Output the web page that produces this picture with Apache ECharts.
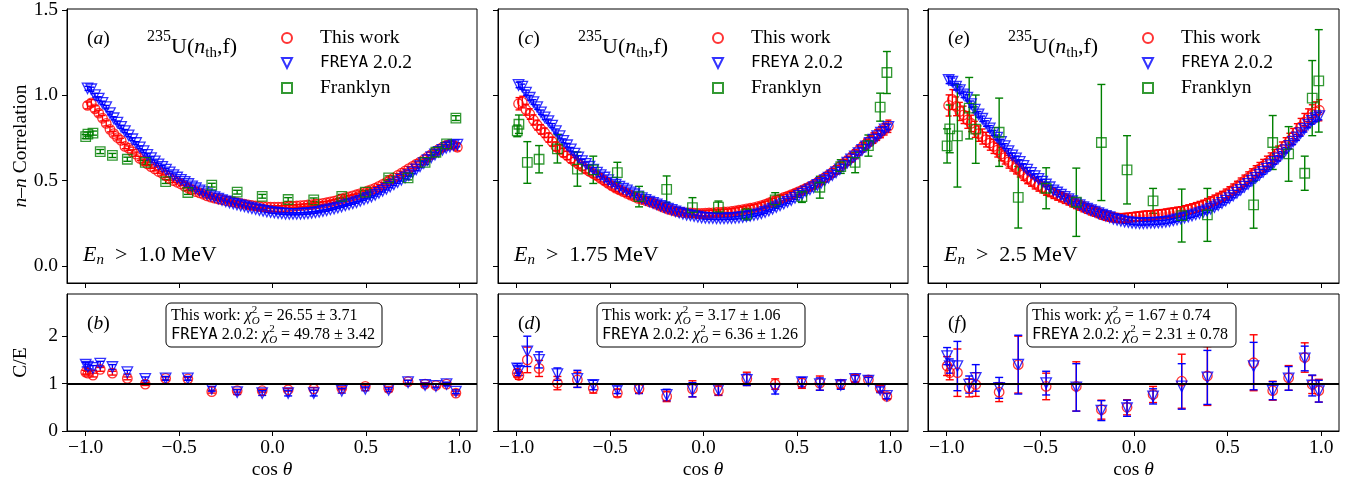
<!DOCTYPE html>
<html>
<head>
<meta charset="utf-8">
<script src="https://cdn.jsdelivr.net/npm/echarts@6/dist/echarts.min.js"></script>
<style>
html, body { margin: 0; padding: 0; background: #fff; }
#chart { width: 1364px; height: 487px; }
</style>
</head>
<body>
<div id="chart"></div>
<script>
// n-n angular correlation for 235U(n_th,f): measurement, FREYA 2.0.2 and Franklyn,
// plus the C/E ratios against Franklyn, for three neutron energy thresholds.

const SERIF = "'Liberation Serif', 'DejaVu Serif', serif";
const MONO = "'DejaVu Sans Mono', 'Liberation Mono', monospace";
const RED = '#ff0000', BLUE = '#0000ff', GREEN = '#008000';

// ---- cos(theta) bin centres for the dense correlation curves ----
const cosTheta = [-0.99,-0.97,-0.95,-0.93,-0.91,-0.89,-0.87,-0.85,-0.83,-0.81,
  -0.79,-0.77,-0.75,-0.73,-0.71,-0.69,-0.67,-0.65,-0.63,-0.61,
  -0.59,-0.57,-0.55,-0.53,-0.51,-0.49,-0.47,-0.45,-0.43,-0.41,
  -0.39,-0.37,-0.35,-0.33,-0.31,-0.29,-0.27,-0.25,-0.23,-0.21,
  -0.19,-0.17,-0.15,-0.13,-0.11,-0.09,-0.07,-0.05,-0.03,-0.01,
  0.01,0.03,0.05,0.07,0.09,0.11,0.13,0.15,0.17,0.19,
  0.21,0.23,0.25,0.27,0.29,0.31,0.33,0.35,0.37,0.39,
  0.41,0.43,0.45,0.47,0.49,0.51,0.53,0.55,0.57,0.59,
  0.61,0.63,0.65,0.67,0.69,0.71,0.73,0.75,0.77,0.79,
  0.81,0.83,0.85,0.87,0.89,0.91,0.93,0.95,0.97,0.99];

// ---- E_n > 1.0 MeV ----
const workA = [0.94,0.955,0.92,0.895,0.865,0.835,0.80,0.775,0.752,0.735,
  0.70,0.69,0.668,0.655,0.63,0.615,0.598,0.582,0.568,0.553,
  0.542,0.528,0.512,0.50,0.49,0.48,0.466,0.455,0.447,0.435,
  0.428,0.42,0.41,0.403,0.397,0.392,0.388,0.383,0.379,0.375,
  0.37,0.366,0.362,0.358,0.354,0.351,0.349,0.347,0.346,0.345,
  0.344,0.344,0.345,0.346,0.348,0.349,0.351,0.353,0.355,0.357,
  0.359,0.362,0.364,0.367,0.37,0.375,0.38,0.386,0.391,0.40,
  0.404,0.41,0.417,0.424,0.431,0.44,0.447,0.455,0.466,0.478,
  0.49,0.504,0.516,0.53,0.543,0.556,0.57,0.583,0.596,0.608,
  0.621,0.637,0.652,0.668,0.683,0.695,0.706,0.712,0.708,0.695];
const workErrA = [0.02,0.019,0.018,0.017,0.016,0.015,0.015,0.014,0.014,0.013,
  0.013,0.013,0.012,0.012,0.012,0.011,0.011,0.011,0.011,0.01,
  0.01,0.01,0.01,0.01,0.01,0.01,0.009,0.009,0.009,0.009,
  0.009,0.009,0.009,0.009,0.009,0.009,0.009,0.008,0.008,0.008,
  0.008,0.008,0.008,0.008,0.008,0.008,0.008,0.008,0.008,0.008,
  0.008,0.008,0.008,0.008,0.008,0.008,0.008,0.008,0.008,0.008,
  0.008,0.008,0.008,0.009,0.009,0.009,0.009,0.009,0.009,0.009,
  0.009,0.009,0.009,0.01,0.01,0.01,0.01,0.01,0.01,0.01,
  0.011,0.011,0.011,0.011,0.012,0.012,0.012,0.013,0.013,0.013,
  0.014,0.014,0.015,0.015,0.016,0.017,0.018,0.019,0.02,0.021];
const freyaA = [1.04,1.035,1.00,0.98,0.955,0.93,0.895,0.865,0.84,0.815,
  0.79,0.765,0.742,0.72,0.695,0.672,0.65,0.632,0.613,0.595,
  0.58,0.564,0.548,0.532,0.518,0.504,0.492,0.48,0.466,0.455,
  0.443,0.432,0.421,0.412,0.403,0.394,0.386,0.378,0.372,0.365,
  0.36,0.354,0.349,0.343,0.338,0.333,0.328,0.323,0.319,0.315,
  0.313,0.31,0.308,0.306,0.305,0.305,0.305,0.306,0.307,0.309,
  0.311,0.314,0.317,0.322,0.326,0.331,0.336,0.342,0.348,0.355,
  0.361,0.367,0.373,0.381,0.39,0.398,0.407,0.416,0.428,0.44,
  0.452,0.465,0.478,0.491,0.505,0.518,0.532,0.548,0.566,0.584,
  0.602,0.62,0.637,0.653,0.668,0.68,0.692,0.70,0.707,0.71];
const freyaErrA = [0.012,0.012,0.011,0.011,0.01,0.01,0.01,0.009,0.009,0.009,
  0.009,0.008,0.008,0.008,0.008,0.008,0.007,0.007,0.007,0.007,
  0.007,0.007,0.007,0.007,0.006,0.006,0.006,0.006,0.006,0.006,
  0.006,0.006,0.006,0.006,0.006,0.006,0.006,0.006,0.006,0.006,
  0.006,0.006,0.006,0.006,0.006,0.006,0.006,0.006,0.006,0.006,
  0.006,0.006,0.006,0.006,0.006,0.006,0.006,0.006,0.006,0.006,
  0.006,0.006,0.006,0.006,0.006,0.006,0.006,0.006,0.006,0.006,
  0.006,0.006,0.006,0.006,0.006,0.006,0.007,0.007,0.007,0.007,
  0.007,0.007,0.007,0.007,0.008,0.008,0.008,0.008,0.008,0.009,
  0.009,0.009,0.009,0.01,0.01,0.01,0.011,0.011,0.012,0.012];
const franklynXA = [-1.0,-0.988,-0.961,-0.922,-0.857,-0.777,-0.681,-0.572,-0.453,-0.325,-0.189,
  -0.055,0.084,0.221,0.371,0.497,0.622,0.726,0.817,0.875,0.932,0.982];
const franklynA = [0.758,0.772,0.778,0.670,0.647,0.625,0.606,0.494,0.430,0.473,0.432,
  0.408,0.389,0.387,0.408,0.432,0.516,0.516,0.606,0.666,0.715,0.866];
const franklynErrA = [0.012,0.012,0.012,0.012,0.012,0.012,0.011,0.011,0.011,0.011,0.011,
  0.011,0.011,0.011,0.011,0.011,0.011,0.012,0.012,0.012,0.012,0.014];
const ratioWorkB = [1.24,1.22,1.18,1.30,1.22,1.11,0.99,1.11,1.10,0.83,0.85,
  0.85,0.87,0.89,0.90,0.94,0.90,1.04,0.99,0.96,0.99,0.80];
const ratioWorkErrB = [0.04,0.04,0.04,0.04,0.04,0.03,0.03,0.03,0.03,0.03,0.03,
  0.03,0.03,0.03,0.03,0.03,0.03,0.03,0.03,0.03,0.03,0.04];
const ratioFreyaB = [1.40,1.36,1.33,1.42,1.35,1.24,1.10,1.11,1.11,0.89,0.82,
  0.80,0.80,0.80,0.85,0.89,0.87,1.03,0.97,0.95,0.99,0.83];
const ratioFreyaErrB = [0.05,0.05,0.05,0.05,0.05,0.04,0.04,0.04,0.04,0.05,0.05,
  0.05,0.06,0.06,0.05,0.04,0.04,0.04,0.04,0.04,0.04,0.04];

// ---- E_n > 1.75 MeV ----
const workC = [0.95,0.96,0.915,0.89,0.855,0.825,0.80,0.78,0.752,0.728,
  0.70,0.683,0.664,0.647,0.628,0.612,0.597,0.583,0.567,0.553,
  0.541,0.528,0.512,0.498,0.483,0.469,0.456,0.445,0.435,0.425,
  0.415,0.405,0.396,0.389,0.383,0.377,0.369,0.36,0.35,0.341,
  0.333,0.327,0.321,0.316,0.313,0.311,0.31,0.309,0.308,0.308,
  0.309,0.31,0.311,0.313,0.314,0.316,0.317,0.319,0.323,0.327,
  0.33,0.334,0.338,0.342,0.347,0.353,0.361,0.369,0.378,0.386,
  0.393,0.401,0.409,0.417,0.426,0.435,0.445,0.455,0.465,0.476,
  0.489,0.502,0.517,0.532,0.547,0.563,0.581,0.599,0.616,0.634,
  0.654,0.675,0.695,0.714,0.732,0.749,0.767,0.784,0.801,0.818];
const workErrC = [0.036,0.034,0.032,0.031,0.03,0.029,0.028,0.028,0.027,0.026,
  0.026,0.025,0.025,0.024,0.024,0.023,0.023,0.022,0.022,0.021,
  0.021,0.021,0.02,0.02,0.02,0.019,0.019,0.019,0.019,0.018,
  0.018,0.018,0.018,0.018,0.017,0.017,0.017,0.017,0.017,0.017,
  0.016,0.016,0.016,0.016,0.016,0.016,0.016,0.016,0.016,0.016,
  0.016,0.016,0.016,0.016,0.016,0.016,0.016,0.016,0.016,0.017,
  0.017,0.017,0.017,0.017,0.017,0.018,0.018,0.018,0.018,0.018,
  0.019,0.019,0.019,0.019,0.02,0.02,0.02,0.021,0.021,0.021,
  0.022,0.022,0.023,0.023,0.024,0.024,0.025,0.025,0.026,0.026,
  0.027,0.028,0.028,0.029,0.03,0.031,0.032,0.033,0.034,0.036];
const freyaC = [1.06,1.05,1.015,0.985,0.96,0.93,0.90,0.87,0.848,0.822,
  0.79,0.76,0.733,0.707,0.683,0.658,0.636,0.614,0.598,0.581,
  0.564,0.547,0.532,0.518,0.503,0.488,0.476,0.464,0.453,0.442,
  0.431,0.42,0.408,0.397,0.387,0.377,0.369,0.361,0.352,0.344,
  0.336,0.328,0.32,0.312,0.306,0.30,0.296,0.292,0.288,0.284,
  0.282,0.281,0.28,0.279,0.279,0.279,0.28,0.28,0.282,0.284,
  0.287,0.29,0.294,0.298,0.302,0.308,0.316,0.325,0.335,0.345,
  0.355,0.365,0.375,0.386,0.399,0.411,0.424,0.436,0.449,0.461,
  0.474,0.487,0.502,0.517,0.532,0.549,0.566,0.585,0.605,0.624,
  0.642,0.66,0.68,0.70,0.72,0.74,0.76,0.78,0.80,0.815];
const freyaErrC = [0.016,0.015,0.015,0.014,0.014,0.013,0.013,0.013,0.012,0.012,
  0.012,0.011,0.011,0.011,0.011,0.01,0.01,0.01,0.01,0.01,
  0.01,0.009,0.009,0.009,0.009,0.009,0.009,0.009,0.008,0.008,
  0.008,0.008,0.008,0.008,0.008,0.008,0.008,0.008,0.008,0.008,
  0.008,0.008,0.008,0.008,0.008,0.008,0.008,0.008,0.008,0.008,
  0.008,0.008,0.008,0.008,0.008,0.008,0.008,0.008,0.008,0.008,
  0.008,0.008,0.008,0.008,0.008,0.008,0.008,0.008,0.008,0.008,
  0.008,0.008,0.009,0.009,0.009,0.009,0.009,0.009,0.009,0.01,
  0.01,0.01,0.01,0.01,0.011,0.011,0.011,0.011,0.012,0.012,
  0.012,0.013,0.013,0.013,0.014,0.014,0.015,0.015,0.016,0.016];
const franklynXC = [-0.997,-0.988,-0.943,-0.88,-0.782,-0.675,-0.59,-0.461,-0.345,-0.197,-0.059,
  0.08,0.232,0.384,0.527,0.623,0.735,0.812,0.883,0.946,0.982];
const franklynC = [0.791,0.830,0.606,0.625,0.686,0.567,0.563,0.547,0.406,0.449,0.342,
  0.344,0.303,0.387,0.406,0.461,0.582,0.606,0.705,0.930,1.133];
const franklynErrC = [0.034,0.054,0.122,0.08,0.083,0.10,0.08,0.06,0.06,0.078,0.058,
  0.036,0.034,0.042,0.034,0.064,0.04,0.06,0.062,0.082,0.123];
const ratioWorkD = [1.22,1.17,1.50,1.32,1.01,1.08,0.90,0.80,0.89,0.73,0.89,
  0.85,1.10,0.99,1.01,1.01,0.99,1.11,1.08,0.90,0.73];
const ratioWorkErrD = [0.08,0.08,0.27,0.17,0.14,0.16,0.10,0.08,0.09,0.11,0.17,
  0.10,0.14,0.11,0.11,0.15,0.09,0.08,0.08,0.06,0.06];
const ratioFreyaD = [1.32,1.27,1.68,1.50,1.20,1.10,0.97,0.87,0.89,0.76,0.87,
  0.87,1.08,0.89,1.03,0.99,0.97,1.10,1.06,0.87,0.74];
const ratioFreyaErrD = [0.10,0.10,0.32,0.17,0.13,0.18,0.10,0.08,0.10,0.12,0.15,
  0.11,0.12,0.11,0.10,0.13,0.09,0.07,0.07,0.06,0.06];

// ---- E_n > 2.5 MeV ----
const workE = [0.94,0.975,0.935,0.905,0.885,0.855,0.835,0.80,0.775,0.758,
  0.74,0.72,0.70,0.678,0.655,0.635,0.61,0.592,0.574,0.556,
  0.535,0.516,0.50,0.484,0.47,0.46,0.445,0.437,0.425,0.415,
  0.405,0.395,0.386,0.375,0.364,0.355,0.345,0.335,0.326,0.318,
  0.31,0.30,0.293,0.288,0.284,0.281,0.28,0.281,0.283,0.286,
  0.289,0.291,0.294,0.296,0.297,0.299,0.302,0.304,0.307,0.31,
  0.313,0.317,0.32,0.325,0.33,0.336,0.342,0.349,0.356,0.365,
  0.375,0.385,0.395,0.406,0.418,0.432,0.447,0.463,0.481,0.498,
  0.516,0.534,0.551,0.569,0.586,0.604,0.622,0.641,0.66,0.683,
  0.707,0.732,0.758,0.785,0.815,0.842,0.867,0.889,0.903,0.912];
const workErrE = [0.062,0.058,0.055,0.053,0.051,0.049,0.048,0.047,0.045,0.044,
  0.043,0.042,0.041,0.04,0.039,0.038,0.037,0.036,0.035,0.035,
  0.034,0.034,0.033,0.033,0.032,0.032,0.031,0.031,0.03,0.03,
  0.03,0.029,0.029,0.029,0.028,0.028,0.028,0.027,0.027,0.027,
  0.027,0.026,0.026,0.026,0.026,0.026,0.026,0.026,0.026,0.026,
  0.026,0.026,0.026,0.026,0.026,0.026,0.026,0.026,0.026,0.027,
  0.027,0.027,0.027,0.028,0.028,0.028,0.029,0.029,0.029,0.03,
  0.03,0.03,0.031,0.031,0.032,0.032,0.033,0.033,0.034,0.034,
  0.035,0.035,0.036,0.037,0.038,0.039,0.04,0.041,0.042,0.043,
  0.044,0.045,0.047,0.048,0.049,0.051,0.053,0.055,0.058,0.062];
const freyaE = [1.09,1.08,1.05,1.03,1.005,0.985,0.948,0.915,0.888,0.862,
  0.834,0.806,0.779,0.752,0.727,0.702,0.673,0.648,0.63,0.609,
  0.586,0.564,0.545,0.526,0.51,0.494,0.477,0.461,0.443,0.43,
  0.417,0.404,0.391,0.379,0.367,0.356,0.345,0.335,0.326,0.318,
  0.309,0.301,0.293,0.285,0.276,0.27,0.265,0.26,0.257,0.253,
  0.251,0.25,0.25,0.251,0.252,0.253,0.254,0.256,0.258,0.262,
  0.267,0.272,0.277,0.283,0.289,0.295,0.302,0.309,0.316,0.325,
  0.335,0.345,0.356,0.369,0.383,0.397,0.412,0.429,0.446,0.464,
  0.481,0.499,0.516,0.534,0.551,0.57,0.59,0.61,0.63,0.654,
  0.678,0.703,0.728,0.753,0.778,0.803,0.828,0.85,0.866,0.878];
const freyaErrE = [0.022,0.021,0.02,0.019,0.019,0.018,0.018,0.017,0.017,0.016,
  0.016,0.016,0.015,0.015,0.015,0.014,0.014,0.014,0.014,0.013,
  0.013,0.013,0.013,0.013,0.012,0.012,0.012,0.012,0.012,0.012,
  0.012,0.011,0.011,0.011,0.011,0.011,0.011,0.011,0.011,0.011,
  0.011,0.011,0.011,0.011,0.011,0.011,0.011,0.011,0.011,0.011,
  0.011,0.011,0.011,0.011,0.011,0.011,0.011,0.011,0.011,0.011,
  0.011,0.011,0.011,0.011,0.011,0.011,0.011,0.011,0.011,0.012,
  0.012,0.012,0.012,0.012,0.012,0.012,0.013,0.013,0.013,0.013,
  0.013,0.014,0.014,0.014,0.014,0.015,0.015,0.015,0.016,0.016,
  0.016,0.017,0.017,0.018,0.018,0.019,0.019,0.02,0.021,0.022];
const franklynXE = [-0.998,-0.984,-0.943,-0.880,-0.845,-0.720,-0.618,-0.469,-0.308,-0.174,
  -0.037,0.102,0.255,0.392,0.639,0.741,0.826,0.912,0.952,0.987];
const franklynE = [0.703,0.803,0.762,0.924,0.801,0.783,0.402,0.455,0.373,0.723,
  0.563,0.381,0.295,0.299,0.358,0.723,0.656,0.543,0.983,1.084];
const franklynErrE = [0.10,0.14,0.30,0.18,0.20,0.20,0.18,0.12,0.20,0.34,
  0.20,0.073,0.155,0.155,0.137,0.158,0.16,0.10,0.22,0.30];
const ratioWorkF = [1.37,1.23,1.23,0.91,0.98,0.82,1.40,0.94,0.94,0.45,
  0.50,0.77,1.05,1.16,1.44,0.85,1.12,1.55,0.98,0.85];
const ratioWorkErrF = [0.20,0.15,0.50,0.19,0.25,0.20,0.60,0.28,0.52,0.20,
  0.16,0.17,0.57,0.62,0.59,0.20,0.26,0.31,0.19,0.24];
const ratioFreyaF = [1.58,1.37,1.37,0.98,1.12,0.91,1.40,1.01,0.92,0.43,
  0.48,0.73,0.94,1.13,1.37,0.85,1.11,1.53,0.96,0.84];
const ratioFreyaErrF = [0.18,0.15,0.52,0.18,0.28,0.22,0.62,0.25,0.50,0.21,
  0.17,0.16,0.48,0.57,0.50,0.19,0.25,0.26,0.22,0.23];

// ---- axis ticks ----
const cosTicks = [-1, -0.5, 0, 0.5, 1];
const corrTicks = [0, 0.5, 1, 1.5];
const ratioTicks = [0, 1, 2];

// ---- panel texts ----
const panelTags = [['a', 'b'], ['c', 'd'], ['e', 'f']];
const energyCuts = ['1.0', '1.75', '2.5'];
const chiWork = ['26.55 ± 3.71', '3.17 ± 1.06', '1.67 ± 0.74'];
const chiFreya = ['49.78 ± 3.42', '6.36 ± 1.26', '2.31 ± 0.78'];

const corrPanels = [
  { work: workA, workErr: workErrA, freya: freyaA, freyaErr: freyaErrA, fx: franklynXA, fy: franklynA, fe: franklynErrA },
  { work: workC, workErr: workErrC, freya: freyaC, freyaErr: freyaErrC, fx: franklynXC, fy: franklynC, fe: franklynErrC },
  { work: workE, workErr: workErrE, freya: freyaE, freyaErr: freyaErrE, fx: franklynXE, fy: franklynE, fe: franklynErrE }
];
const ratioPanels = [
  { x: franklynXA, work: ratioWorkB, workErr: ratioWorkErrB, freya: ratioFreyaB, freyaErr: ratioFreyaErrB },
  { x: franklynXC, work: ratioWorkD, workErr: ratioWorkErrD, freya: ratioFreyaD, freyaErr: ratioFreyaErrD },
  { x: franklynXE, work: ratioWorkF, workErr: ratioWorkErrF, freya: ratioFreyaF, freyaErr: ratioFreyaErrF }
];

// ---- layout ----
const colLeft = [67, 498, 928];
const colWidth = [410, 410, 411];
const TOP_Y = 9, TOP_H = 274, BOT_Y = 294, BOT_H = 137;
const boxWidth = [216, 208, 209];
const FS = 19.5;

const TRI_DOWN = 'path://M0,0L20,0L10,20Z';
const SQUARE = 'path://M0,0L20,0L20,20L0,20Z';

const signed1 = v => (v < 0 ? '\u2212' : '') + Math.abs(v).toFixed(1);

function xAxisOf(gridIndex, withLabels) {
  const ax = {
    type: 'value', gridIndex, min: -1.1, max: 1.095,
    axisLine: { show: true, onZero: false, lineStyle: { color: '#000', width: 1 } },
    axisTick: { show: true, length: 5, inside: false, customValues: cosTicks, lineStyle: { color: '#000', width: 1 } },
    axisLabel: { show: withLabels, customValues: cosTicks, formatter: signed1, color: '#000', fontFamily: SERIF, fontSize: FS, margin: 7 },
    splitLine: { show: false }
  };
  if (withLabels) {
    ax.name = '{u|cos }{i|θ}';
    ax.nameLocation = 'middle';
    ax.nameGap = 29;
    ax.nameMoveOverlap = false;
    ax.nameTextStyle = {
      color: '#000', fontFamily: SERIF, fontSize: FS,
      rich: {
        u: { fontFamily: SERIF, fontSize: FS, color: '#000' },
        i: { fontFamily: SERIF, fontSize: FS, fontStyle: 'italic', color: '#000' }
      }
    };
  }
  return ax;
}

function yAxisOf(gridIndex, isCorr, withLabels) {
  const ax = {
    type: 'value', gridIndex,
    min: isCorr ? -0.1 : 0, max: isCorr ? 1.505 : 2.89,
    axisLine: { show: true, onZero: false, lineStyle: { color: '#000', width: 1 } },
    axisTick: { show: true, length: 5, inside: false, customValues: isCorr ? corrTicks : ratioTicks, lineStyle: { color: '#000', width: 1 } },
    axisLabel: {
      show: withLabels, customValues: isCorr ? corrTicks : ratioTicks,
      formatter: isCorr ? (v => v.toFixed(1)) : (v => String(v)),
      color: '#000', fontFamily: SERIF, fontSize: FS, margin: 9
    },
    splitLine: { show: false }
  };
  if (withLabels) {
    ax.name = isCorr ? '{i|n}{t|–}{i|n}{t| Correlation}' : '{t|C/E}';
    ax.nameLocation = 'middle';
    ax.nameGap = 36;
    ax.nameMoveOverlap = false;
    ax.nameTextStyle = {
      color: '#000', fontFamily: SERIF, fontSize: FS,
      rich: {
        t: { fontFamily: SERIF, fontSize: FS, color: '#000' },
        i: { fontFamily: SERIF, fontSize: FS, fontStyle: 'italic', color: '#000' }
      }
    };
  }
  return ax;
}

function pairs(xs, ys) { return xs.map((x, k) => [x, ys[k]]); }

function markerSeries(name, ax, xs, ys, symbol, size, color) {
  return {
    type: 'scatter', name, xAxisIndex: ax, yAxisIndex: ax,
    data: pairs(xs, ys), symbol, symbolSize: size,
    itemStyle: { color: 'rgba(0,0,0,0)', borderColor: color, borderWidth: 1.3 },
    emphasis: { disabled: true }, silent: true, animation: false
  };
}

function errorSeries(ax, xs, ys, es, color, cap) {
  return {
    type: 'custom', xAxisIndex: ax, yAxisIndex: ax, silent: true, animation: false, clip: true,
    data: xs.map((x, k) => [x, ys[k] - es[k], ys[k] + es[k]]),
    encode: { x: 0, y: [1, 2] },
    renderItem(params, api) {
      const x = api.value(0);
      const lo = api.coord([x, api.value(1)]);
      const hi = api.coord([x, api.value(2)]);
      const st = () => ({ stroke: color, lineWidth: 1.4 });
      return {
        type: 'group',
        children: [
          { type: 'line', shape: { x1: lo[0], y1: lo[1], x2: hi[0], y2: hi[1] }, style: st() },
          { type: 'line', shape: { x1: lo[0] - cap, y1: lo[1], x2: lo[0] + cap, y2: lo[1] }, style: st() },
          { type: 'line', shape: { x1: hi[0] - cap, y1: hi[1], x2: hi[0] + cap, y2: hi[1] }, style: st() }
        ]
      };
    }
  };
}

const grids = [], xAxes = [], yAxes = [], series = [], legends = [], graphics = [];

for (let row = 0; row < 2; row++) {
  for (let i = 0; i < 3; i++) {
    grids.push({
      left: colLeft[i], top: row ? BOT_Y : TOP_Y, width: colWidth[i], height: row ? BOT_H : TOP_H,
      show: true, borderColor: '#000', borderWidth: 1, backgroundColor: 'transparent',
      containLabel: false, outerBoundsMode: 'none'
    });
  }
}
for (let i = 0; i < 3; i++) { xAxes.push(xAxisOf(i, false)); yAxes.push(yAxisOf(i, true, i === 0)); }
for (let i = 0; i < 3; i++) { xAxes.push(xAxisOf(3 + i, true)); yAxes.push(yAxisOf(3 + i, false, i === 0)); }

// correlation panels
corrPanels.forEach((p, i) => {
  series.push(errorSeries(i, cosTheta, p.work, p.workErr, RED, 3));
  series.push(markerSeries('This work', i, cosTheta, p.work, 'circle', 9.5, RED));
  series.push(errorSeries(i, cosTheta, p.freya, p.freyaErr, BLUE, 3));
  series.push(markerSeries('FREYA 2.0.2', i, cosTheta, p.freya, TRI_DOWN, 10.5, BLUE));
  series.push(errorSeries(i, p.fx, p.fy, p.fe, GREEN, 4));
  series.push(markerSeries('Franklyn', i, p.fx, p.fy, SQUARE, 9.5, GREEN));
});

// C/E panels
ratioPanels.forEach((p, i) => {
  const ax = 3 + i;
  series.push(errorSeries(ax, p.x, p.work, p.workErr, RED, 4));
  series.push(markerSeries('This work', ax, p.x, p.work, 'circle', 9.5, RED));
  series.push(errorSeries(ax, p.x, p.freya, p.freyaErr, BLUE, 4));
  const s = markerSeries('FREYA 2.0.2', ax, p.x, p.freya, TRI_DOWN, 10.5, BLUE);
  s.markLine = {
    silent: true, symbol: ['none', 'none'], label: { show: false }, animation: false,
    lineStyle: { color: '#000', width: 2, type: 'solid' },
    emphasis: { disabled: true },
    data: [{ yAxis: 1 }]
  };
  series.push(s);
});

// legends in the correlation panels (the box is placed by its drawn extent,
// so the left edge is the left edge of the marker)
for (let i = 0; i < 3; i++) {
  legends.push({
    orient: 'vertical', left: colLeft[i] + 214, top: 28, padding: 0,
    itemGap: 5, itemWidth: 56, itemHeight: 10, selectedMode: false, symbolKeepAspect: true,
    data: ['This work', 'FREYA 2.0.2', 'Franklyn'],
    formatter: n => n === 'FREYA 2.0.2' ? '{m|FREYA}{t| 2.0.2}' : '{t|' + n + '}',
    textStyle: {
      color: '#000', fontFamily: SERIF, fontSize: FS, lineHeight: 20,
      rich: {
        t: { fontFamily: SERIF, fontSize: FS, color: '#000', lineHeight: 20 },
        m: { fontFamily: MONO, fontSize: 16, color: '#000', lineHeight: 20 }
      }
    }
  });
}

// text token: size in px, centre offset from the text block top
function tok(size, centre, italic, mono) {
  return {
    fontSize: size, fontFamily: mono ? MONO : SERIF, fontStyle: italic ? 'italic' : 'normal',
    fill: '#000', verticalAlign: 'top', padding: [Math.max(0, centre - size / 2), 0, 0, 0]
  };
}
function label(x, y, text, rich, z) {
  return { type: 'text', x, y, silent: true, z: z || 60, style: { text, rich, fill: '#000', align: 'left', verticalAlign: 'top' } };
}

for (let i = 0; i < 3; i++) {
  const L = colLeft[i];
  const [tagTop, tagBot] = panelTags[i];
  // panel tags
  const tagRich = { t: tok(FS, 10), i: tok(FS, 10, true) };
  graphics.push(label(L + 20, 29, '{t|(}{i|' + tagTop + '}{t|)}', tagRich));
  graphics.push(label(L + 20, 314, '{t|(}{i|' + tagBot + '}{t|)}', tagRich));
  // reaction
  graphics.push(label(L + 80, 26, '{sup|235}{t|U(}{i|n}{sub|th}{t|,f)}', {
    sup: tok(16, 11), t: tok(22, 21), i: tok(22, 21, true), sub: tok(15, 27.5)
  }));
  // energy threshold
  graphics.push(label(L + 16, 240, '{i|E}{sub|n}{t|\u2002>\u2002' + energyCuts[i] + ' MeV}', {
    i: tok(22, 15, true), sub: tok(15, 20, true), t: tok(22, 15)
  }));
  // chi-square box
  graphics.push({
    type: 'rect', silent: true, z: 55,
    shape: { x: L + 99, y: 303, width: boxWidth[i], height: 44, r: 5 },
    style: { fill: '#fff', stroke: '#000', lineWidth: 1 }
  });
  const chiRich = {
    t: tok(16, 11.5), m: tok(15.5, 11.5, false, true), it: tok(16, 11.5, true),
    sup: Object.assign(tok(11, 6.5), { width: 0 }), sub: tok(11, 17, true)
  };
  graphics.push(label(L + 104, 304, '{t|This work: }{it|χ}{sup|2}{sub|O}{t| = ' + chiWork[i] + '}', chiRich));
  graphics.push(label(L + 104, 323, '{m|FREYA}{t| 2.0.2: }{it|χ}{sup|2}{sub|O}{t| = ' + chiFreya[i] + '}', chiRich));
}

const chart = echarts.init(document.getElementById('chart'), null, { renderer: 'canvas' });
chart.setOption({
  animation: false,
  backgroundColor: '#fff',
  grid: grids,
  xAxis: xAxes,
  yAxis: yAxes,
  legend: legends,
  series,
  graphic: { elements: graphics }
});
</script>
</body>
</html>
